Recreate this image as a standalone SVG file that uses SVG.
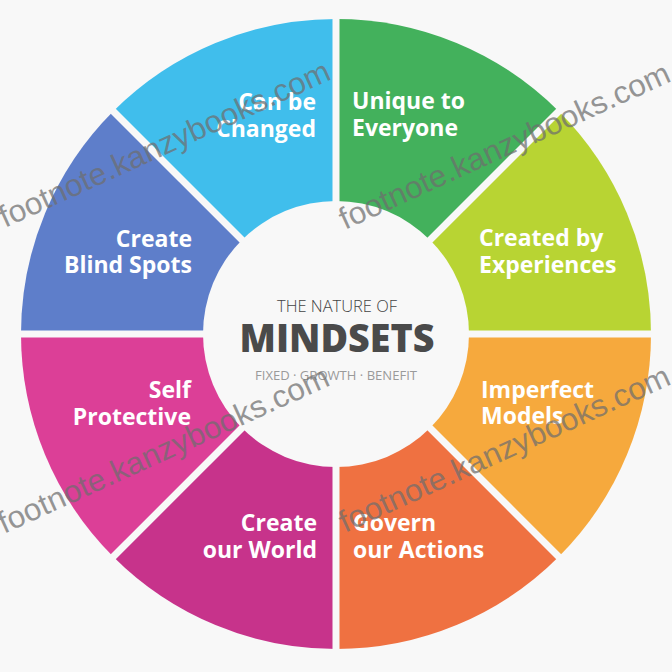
<svg xmlns="http://www.w3.org/2000/svg" width="672" height="672" viewBox="0 0 672 672">
<style>
.lbl{font-family:"Open Sans","Liberation Sans",sans-serif;font-weight:700;font-size:23px;fill:#ffffff}
.end{text-anchor:end}
.sep{stroke:#f8f8f8;stroke-width:7;fill:none}
.wm{font-family:"Liberation Sans","Open Sans",sans-serif;font-size:31px;fill:#6e6e6e;fill-opacity:0.72}
.ctr{font-family:"Open Sans","Liberation Sans",sans-serif;text-anchor:middle}
</style>
<rect width="672" height="672" fill="#f8f8f8"/>
<g id="unique-to-everyone">
<path d="M336,334 L336,19 A315,315 0 0 1 558.74,111.26 Z" fill="#43B15C"/>
</g>
<g id="created-by-experiences">
<path d="M336,334 L558.74,111.26 A315,315 0 0 1 651,334 Z" fill="#B8D433"/>
</g>
<g id="imperfect-models">
<path d="M336,334 L651,334 A315,315 0 0 1 558.74,556.74 Z" fill="#F6A93D"/>
</g>
<g id="govern-our-actions">
<path d="M336,334 L558.74,556.74 A315,315 0 0 1 336,649 Z" fill="#EF7141"/>
</g>
<g id="create-our-world">
<path d="M336,334 L336,649 A315,315 0 0 1 113.26,556.74 Z" fill="#C7338B"/>
</g>
<g id="self-protective">
<path d="M336,334 L113.26,556.74 A315,315 0 0 1 21,334 Z" fill="#DC3F97"/>
</g>
<g id="create-blind-spots">
<path d="M336,334 L21,334 A315,315 0 0 1 113.26,111.26 Z" fill="#5E7ECA"/>
</g>
<g id="can-be-changed">
<path d="M336,334 L113.26,111.26 A315,315 0 0 1 336,19 Z" fill="#40BEEC"/>
</g>
<g id="separators">
<line class="sep" x1="336" y1="8" x2="336" y2="662"/>
<line class="sep" x1="8" y1="334" x2="664" y2="334"/>
<line class="sep" x1="96" y1="94" x2="576" y2="574"/>
<line class="sep" x1="96" y1="574" x2="576" y2="94"/>
</g>
<g id="center">
<circle cx="336" cy="334" r="133" fill="#f8f8f8"/>
<text class="ctr" x="337" y="312" font-size="17" font-weight="300" fill="#444" textLength="120" lengthAdjust="spacingAndGlyphs">THE NATURE OF</text>
<text class="ctr" x="337" y="352" font-size="38" font-weight="800" fill="#4a4a4a" textLength="195" lengthAdjust="spacingAndGlyphs">MINDSETS</text>
<text class="ctr" x="336" y="380" font-size="13" font-weight="400" fill="#9a9a9a" textLength="162" lengthAdjust="spacingAndGlyphs">FIXED · GROWTH · BENEFIT</text>
</g>
<g id="labels">
<text class="lbl end" x="316" y="110">Can be</text>
<text class="lbl end" x="316" y="137">Changed</text>
<text class="lbl" x="352" y="109">Unique to</text>
<text class="lbl" x="352" y="136">Everyone</text>
<text class="lbl end" x="192" y="247">Create</text>
<text class="lbl end" x="192" y="273">Blind Spots</text>
<text class="lbl" x="479" y="246">Created by</text>
<text class="lbl" x="479" y="273">Experiences</text>
<text class="lbl end" x="191" y="398">Self</text>
<text class="lbl end" x="191" y="425">Protective</text>
<text class="lbl" x="481" y="398">Imperfect</text>
<text class="lbl" x="481" y="424">Models</text>
<text class="lbl end" x="317" y="531">Create</text>
<text class="lbl end" x="317" y="558">our World</text>
<text class="lbl" x="353" y="531">Govern</text>
<text class="lbl" x="353" y="558">our Actions</text>
</g>
<g id="watermark">
<text class="wm" transform="translate(5,228) rotate(-24.5)" textLength="360" lengthAdjust="spacingAndGlyphs">footnote.kanzybooks.com</text>
<text class="wm" transform="translate(345,230) rotate(-24.5)" textLength="360" lengthAdjust="spacingAndGlyphs">footnote.kanzybooks.com</text>
<text class="wm" transform="translate(4,534) rotate(-24.5)" textLength="360" lengthAdjust="spacingAndGlyphs">footnote.kanzybooks.com</text>
<text class="wm" transform="translate(345,533) rotate(-24.5)" textLength="360" lengthAdjust="spacingAndGlyphs">footnote.kanzybooks.com</text>
</g>
</svg>
